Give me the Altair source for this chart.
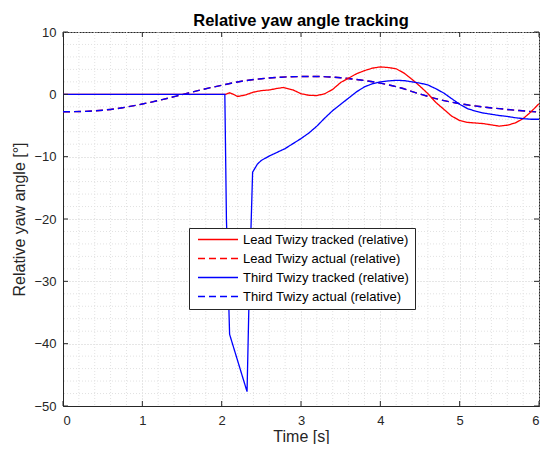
import altair as alt
import pandas as pd

# ---------------- data ----------------
series_names = [
    "Lead Twizy tracked (relative)",
    "Lead Twizy actual (relative)",
    "Third Twizy tracked (relative)",
    "Third Twizy actual (relative)",
]
series_colors = ["#ff0000", "#ff0000", "#0000ff", "#0000ff"]

# actual (relative) yaw, both vehicles practically identical
actual_t = [0.0, 0.25, 0.5, 0.75, 1.0, 1.25, 1.5, 1.75, 2.0, 2.25, 2.5, 2.75,
            3.0, 3.25, 3.5, 3.75, 4.0, 4.25, 4.5, 4.75, 5.0, 5.25, 5.5, 5.75, 6.0]
lead_actual_y = [-2.8, -2.75, -2.55, -2.15, -1.55, -0.85, -0.05, 0.75, 1.45, 2.1, 2.5, 2.75,
                 2.85, 2.85, 2.65, 2.3, 1.8, 1.05, 0.05, -0.85, -1.5, -1.95, -2.3, -2.6, -2.85]
third_actual_y = [-2.8, -2.75, -2.55, -2.15, -1.55, -0.85, -0.05, 0.75, 1.45, 2.1, 2.5, 2.75,
                  2.85, 2.85, 2.65, 2.3, 1.8, 1.05, 0.05, -0.85, -1.5, -1.95, -2.3, -2.6, -2.85]

lead_t = [0.0, 2.05, 2.1, 2.15, 2.2, 2.3, 2.4, 2.5, 2.6, 2.7, 2.78, 2.9, 3.0, 3.1, 3.2,
          3.3, 3.4, 3.5, 3.6, 3.7, 3.8, 3.9, 4.0, 4.1, 4.2, 4.3, 4.4, 4.5, 4.6, 4.7,
          4.8, 4.9, 5.0, 5.1, 5.2, 5.3, 5.4, 5.5, 5.6, 5.7, 5.8, 5.9, 6.0]
lead_y = [0.0, 0.0, 0.25, 0.0, -0.35, -0.1, 0.35, 0.6, 0.7, 0.95, 1.1, 0.7, 0.1, -0.15, -0.2,
          0.1, 0.8, 1.9, 2.6, 3.3, 3.8, 4.2, 4.4, 4.3, 4.1, 3.4, 2.4, 1.3, 0.1, -1.3,
          -2.4, -3.5, -4.2, -4.5, -4.6, -4.7, -4.9, -5.1, -4.95, -4.6, -3.9, -2.8, -1.5]

third_t = [0.0, 2.04, 2.06, 2.1, 2.32, 2.35, 2.39, 2.45, 2.5, 2.6, 2.7, 2.8, 2.9, 3.0,
           3.1, 3.2, 3.3, 3.4, 3.5, 3.6, 3.7, 3.8, 3.9, 4.0, 4.1, 4.2, 4.3, 4.4, 4.5,
           4.6, 4.7, 4.8, 4.9, 5.0, 5.1, 5.2, 5.3, 5.4, 5.5, 5.6, 5.7, 5.8, 5.9, 6.0]
third_y = [0.0, 0.0, -20.0, -38.5, -47.7, -30.0, -12.5, -11.2, -10.6, -9.9, -9.3, -8.7, -7.9, -7.1,
           -6.2, -5.1, -3.8, -2.6, -1.6, -0.6, 0.4, 1.2, 1.7, 2.0, 2.15, 2.25, 2.2, 2.0, 1.8,
           1.5, 0.9, 0.2, -0.7, -1.6, -2.3, -2.7, -3.0, -3.2, -3.4, -3.55, -3.75, -3.9, -4.0, -4.0]

x_ticks = [0, 1, 2, 3, 4, 5, 6]
y_ticks = [-50, -40, -30, -20, -10, 0, 10]
x_minor = [0.2, 0.4, 0.6, 0.8, 1.2, 1.4, 1.6, 1.8, 2.2, 2.4, 2.6, 2.8, 3.2, 3.4, 3.6, 3.8,
           4.2, 4.4, 4.6, 4.8, 5.2, 5.4, 5.6, 5.8]
y_minor = [-48, -46, -44, -42, -38, -36, -34, -32, -28, -26, -24, -22, -18, -16, -14, -12,
           -8, -6, -4, -2, 2, 4, 6, 8]

# ---------------- tables ----------------
actual_df = pd.concat([
    pd.DataFrame({"t": actual_t, "y": lead_actual_y, "series": series_names[1], "k": 0}),
    pd.DataFrame({"t": actual_t, "y": third_actual_y, "series": series_names[3], "k": 1}),
])
tracked_df = pd.concat([
    pd.DataFrame({"t": lead_t, "y": lead_y, "series": series_names[0], "k": 0}),
    pd.DataFrame({"t": third_t, "y": third_y, "series": series_names[2], "k": 1}),
])

W, H = 476, 374
FONT = "Liberation Sans"
INK = "#262626"

x_scale = alt.Scale(domain=[0, 6], nice=False, zero=False)
y_scale = alt.Scale(domain=[-50, 10], nice=False, zero=False)
color_scale = alt.Scale(domain=series_names, range=series_colors)
dash_scale = alt.Scale(domain=series_names, range=[[1, 0], [7, 4], [1, 0], [7, 4]])

legend = alt.Legend(
    title=None, orient="none", legendX=126, legendY=196,
    symbolType="stroke", symbolSize=1600, symbolStrokeWidth=1.4,
    labelFont=FONT, labelFontSize=13, labelColor="#000000", labelLimit=400,
    fillColor="white", strokeColor=INK, padding=5, rowPadding=5, clipHeight=13,
    labelOffset=4, symbolOffset=3, cornerRadius=0,
)

x_axis = alt.Axis(values=x_ticks, title="Time [s]", grid=True, ticks=False,
                  labelPadding=8, titlePadding=1, format="d")
y_axis = alt.Axis(values=y_ticks, title="Relative yaw angle [°]", grid=True, ticks=False,
                  labelPadding=7, titlePadding=6, format="d")

# minor grid
minor_x = alt.Chart(pd.DataFrame({"v": x_minor})).mark_rule(
    color="#e2e2e2", strokeDash=[1, 2], strokeWidth=1
).encode(x=alt.X("v:Q", scale=x_scale, axis=x_axis))
minor_y = alt.Chart(pd.DataFrame({"v": y_minor})).mark_rule(
    color="#e2e2e2", strokeDash=[1, 2], strokeWidth=1
).encode(y=alt.Y("v:Q", scale=y_scale, axis=y_axis))

actual_lines = alt.Chart(actual_df).mark_line(
    interpolate="monotone", strokeWidth=1.4
).encode(
    x=alt.X("t:Q", scale=x_scale, axis=x_axis),
    y=alt.Y("y:Q", scale=y_scale, axis=y_axis),
    color=alt.Color("series:N", scale=color_scale, legend=legend),
    strokeDash=alt.StrokeDash("series:N", scale=dash_scale, legend=legend),
    opacity=alt.Opacity("series:N", scale=alt.Scale(domain=series_names, range=[1, 1, 1, 0.7]), legend=None),
    order="k:Q",
)

tracked_lines = alt.Chart(tracked_df).mark_line(
    interpolate="linear", strokeWidth=1.3
).encode(
    x=alt.X("t:Q", scale=x_scale, axis=x_axis),
    y=alt.Y("y:Q", scale=y_scale, axis=y_axis),
    color=alt.Color("series:N", scale=color_scale, legend=legend),
    strokeDash=alt.StrokeDash("series:N", scale=dash_scale, legend=legend),
    order="k:Q",
)

# inward ticks on all four sides
xt = pd.DataFrame({"v": x_ticks})
yt = pd.DataFrame({"v": y_ticks})
tick_bottom = alt.Chart(xt).mark_rule(color=INK).encode(
    x=alt.X("v:Q", scale=x_scale, axis=x_axis), y=alt.value(H), y2=alt.value(H - 5))
tick_top = alt.Chart(xt).mark_rule(color=INK).encode(
    x=alt.X("v:Q", scale=x_scale, axis=x_axis), y=alt.value(0), y2=alt.value(5))
tick_left = alt.Chart(yt).mark_rule(color=INK).encode(
    y=alt.Y("v:Q", scale=y_scale, axis=y_axis), x=alt.value(0), x2=alt.value(5))
tick_right = alt.Chart(yt).mark_rule(color=INK).encode(
    y=alt.Y("v:Q", scale=y_scale, axis=y_axis), x=alt.value(W), x2=alt.value(W - 5))

chart = alt.layer(
    minor_x, minor_y, actual_lines, tracked_lines,
    tick_bottom, tick_top, tick_left, tick_right,
).resolve_scale(color="shared", strokeDash="shared").properties(
    width=W, height=H,
    title=alt.Title("Relative yaw angle tracking", font=FONT, fontSize=16.5,
                    fontWeight="bold", color="#000000", offset=-3),
    autosize=alt.AutoSizeParams(type="none"),
    padding={"left": 55, "top": 24, "right": 4, "bottom": 38},
    background="white",
).configure_view(
    stroke=INK, strokeWidth=1
).configure_axis(
    labelFont=FONT, labelFontSize=13, labelColor=INK,
    titleFont=FONT, titleFontSize=16, titleFontWeight="normal", titleColor=INK,
    domainColor=INK, gridColor="#cdcdcd", gridDash=[1, 2], gridWidth=1,
)

chart.save("out.html", embed_options={"renderer": "svg", "actions": False})
